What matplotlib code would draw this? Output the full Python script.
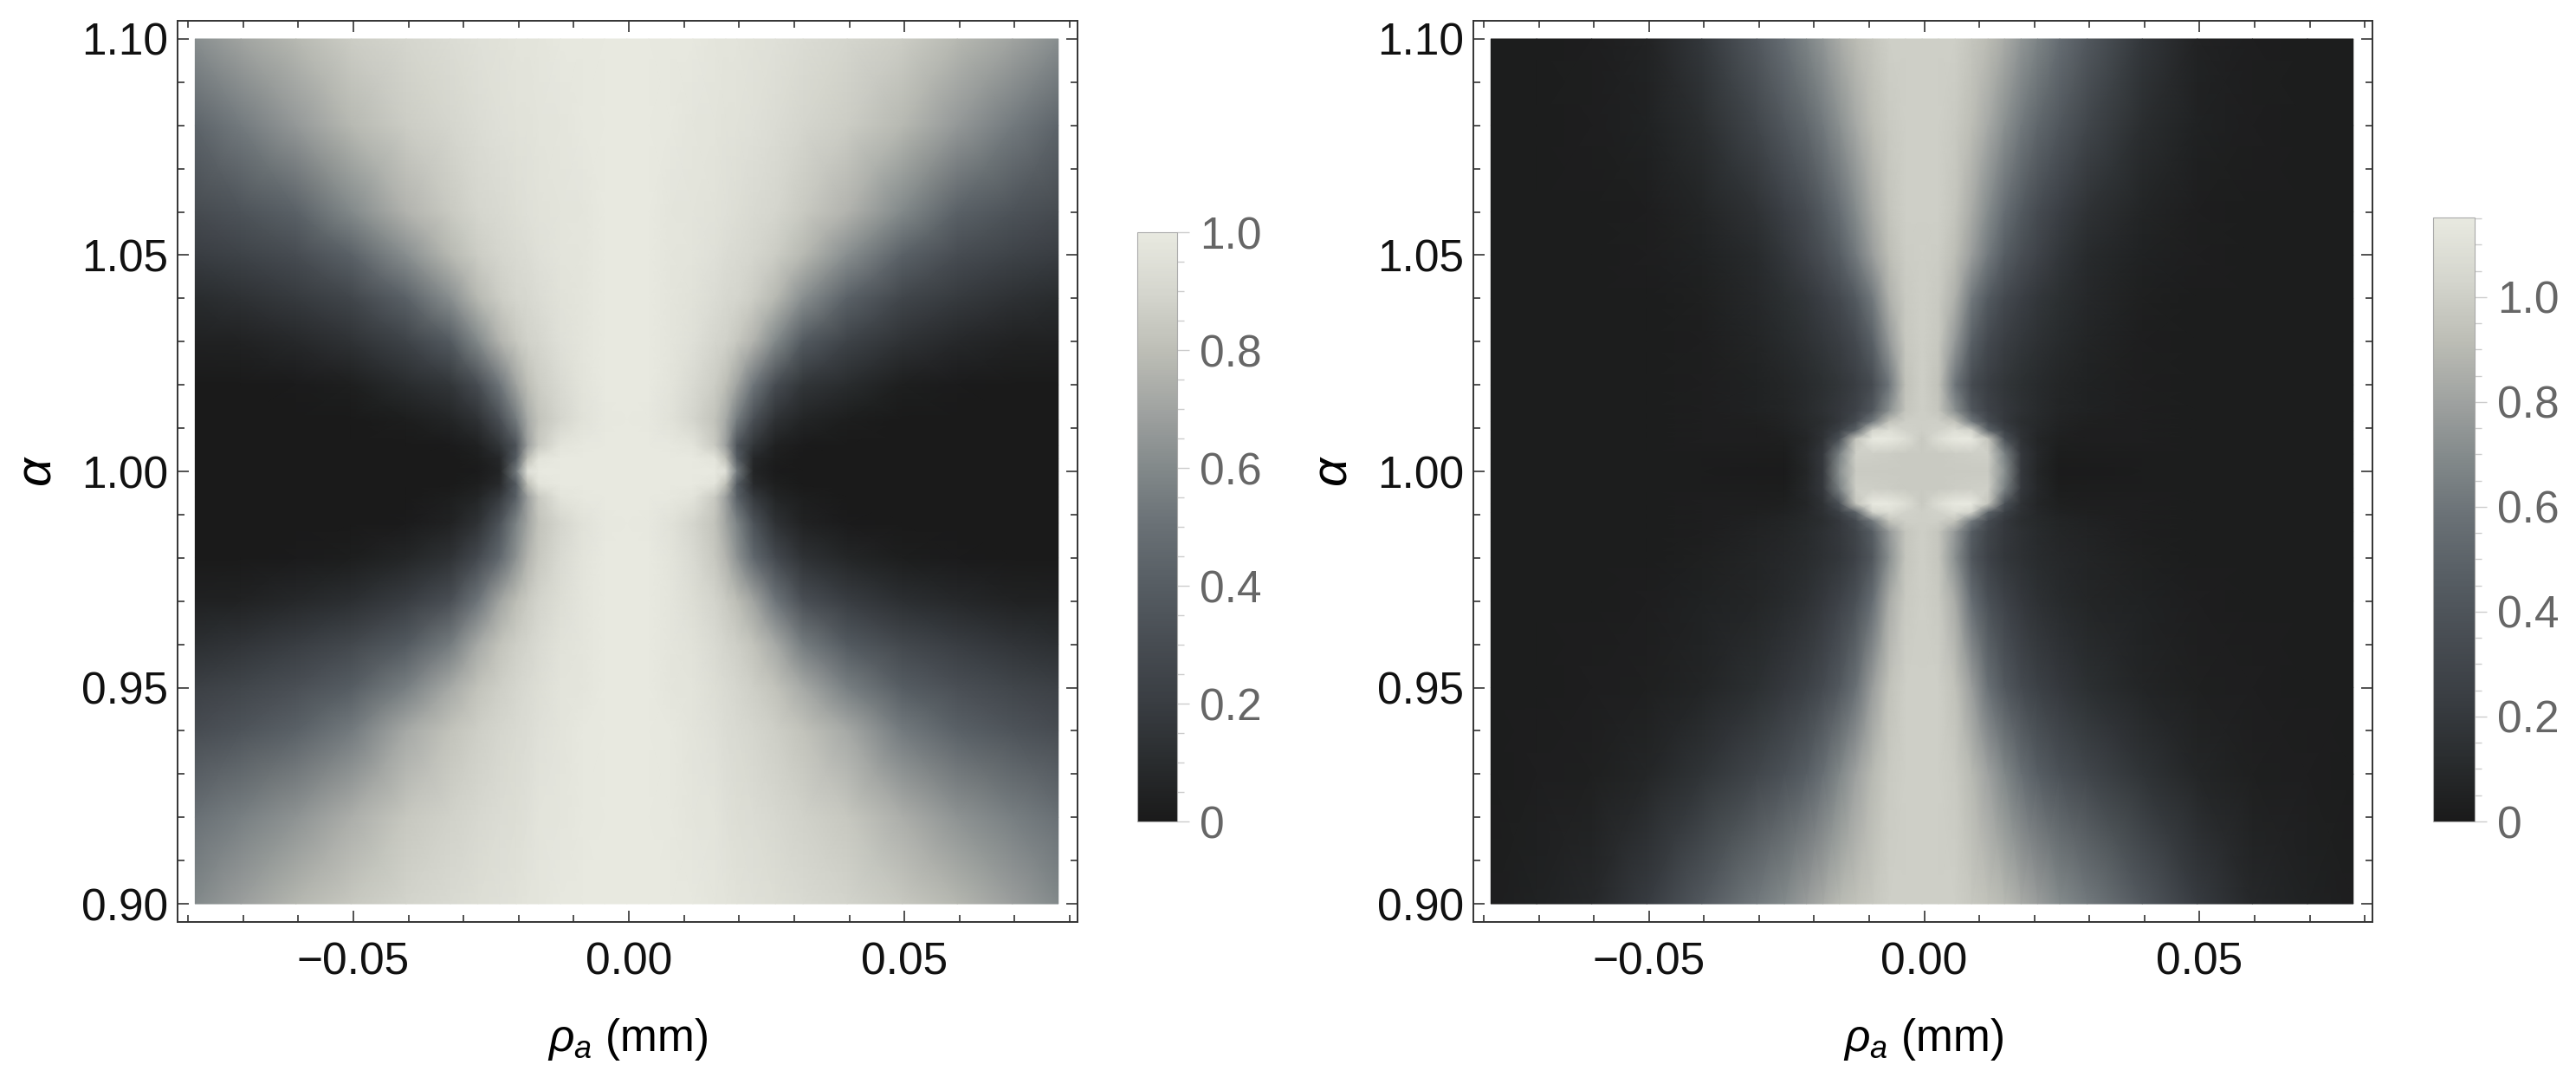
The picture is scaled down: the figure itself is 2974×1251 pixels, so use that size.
#! /usr/bin/env python3


# import libraries
import numpy as np
import matplotlib
matplotlib.use("Agg")
import matplotlib.pyplot as plt
from matplotlib.colors import LinearSegmentedColormap


# chart values: left panel, x >= 0 side of the map
rho_left = [0, .004, .008, .012, .016, .018, .02, .023, .027, .032, .04, .05, .06, .07, .0783]
alpha_left = [1.10, 1.08, 1.06, 1.05, 1.04, 1.03, 1.02, 1.012, 1.006, 1.003, 1.0, .997, .994,
              .988, .98, .97, .96, .95, .94, .92, .90]
val_left = [
    [1, 1, .99, .99, .98, .97, .97, .96, .95, .93, .90, .86, .78, .70, .62],
    [1, 1, .99, .98, .97, .96, .96, .95, .93, .90, .86, .78, .66, .54, .44],
    [1, 1, .98, .97, .96, .95, .94, .92, .90, .85, .76, .60, .42, .34, .29],
    [1, 1, .98, .97, .95, .93, .92, .90, .86, .78, .62, .42, .30, .24, .20],
    [1, 1, .98, .96, .93, .91, .90, .86, .78, .62, .42, .26, .18, .13, .10],
    [1, 1, .98, .95, .90, .88, .84, .76, .60, .38, .24, .14, .08, .05, .04],
    [1, 1, .97, .92, .86, .80, .70, .52, .30, .16, .10, .03, .01, 0, 0],
    [1, .99, .96, .90, .82, .72, .55, .32, .14, .06, .02, 0, 0, 0, 0],
    [1, 1, .99, .97, .85, .68, .35, .16, .04, .01, 0, 0, 0, 0, 0],
    [1, 1, 1, 1, .97, .80, .40, .08, .02, 0, 0, 0, 0, 0, 0],
    [1, 1, 1, 1, 1, .95, .55, .06, .01, 0, 0, 0, 0, 0, 0],
    [1, 1, 1, 1, .97, .80, .40, .09, .03, 0, 0, 0, 0, 0, 0],
    [1, 1, .99, .97, .85, .68, .42, .18, .06, .02, 0, 0, 0, 0, 0],
    [1, .99, .96, .90, .82, .70, .58, .34, .14, .05, .01, 0, 0, 0, 0],
    [1, 1, .97, .92, .84, .76, .64, .46, .28, .14, .07, .02, .01, 0, 0],
    [1, 1, .98, .94, .89, .85, .80, .70, .52, .32, .20, .12, .08, .05, .04],
    [1, 1, .98, .96, .92, .89, .87, .82, .72, .55, .38, .27, .20, .15, .12],
    [1, 1, .98, .97, .94, .92, .90, .87, .82, .72, .56, .40, .32, .26, .22],
    [1, 1, .99, .97, .95, .93, .92, .90, .87, .82, .72, .54, .42, .35, .30],
    [1, 1, .99, .98, .97, .95, .94, .93, .91, .88, .84, .74, .64, .56, .50],
    [1, 1, 1, .99, .98, .97, .96, .95, .94, .92, .89, .84, .77, .68, .60],
]

# chart values: right panel, x >= 0 side of the map
rho_right = [0, .003, .006, .009, .012, .015, .018, .021, .025, .03, .04, .05, .06, .07, .0783]
alpha_right = [1.10, 1.08, 1.06, 1.05, 1.04, 1.03, 1.02, 1.014, 1.0115, 1.0095, 1.0075, 1.004, 1.0,
               .996, .9925, .9905, .9885, .986, .98, .97, .95, .93, .90]
val_right = [
    [1, 1, 1, .96, .91, .84, .75, .67, .56, .43, .19, .06, .03, .02, .02],
    [1, 1, .98, .92, .83, .72, .62, .52, .42, .30, .13, .05, .03, .02, .02],
    [1, 1, .95, .84, .70, .56, .44, .34, .25, .16, .07, .03, .02, .02, .02],
    [1, .99, .92, .78, .62, .46, .36, .28, .19, .11, .05, .03, .02, .02, .02],
    [1, .98, .86, .62, .44, .32, .25, .19, .14, .09, .04, .02, .02, .02, .02],
    [1, .97, .76, .48, .32, .24, .19, .15, .11, .07, .03, .02, .02, .02, .02],
    [1, .94, .60, .34, .24, .18, .14, .11, .08, .05, .03, .02, .02, .02, .02],
    [1, .96, .72, .42, .27, .20, .15, .11, .07, .05, .03, .02, .02, .02, .02],
    [1, 1, .94, .62, .34, .20, .13, .10, .06, .04, .03, .02, .02, .02, .02],
    [1, 1.02, 1.08, 1.02, .50, .26, .15, .09, .05, .03, .03, .02, .02, .02, .02],
    [.98, 1.08, 1.15, 1.15, .95, .38, .16, .08, .04, .03, .03, .02, .02, .02, .02],
    [.98, .98, .99, 1.0, 1.0, .66, .20, .09, .02, .02, .02, .02, .02, .02, .02],
    [.98, .98, .98, .98, .98, .72, .20, .08, .01, .01, .02, .02, .02, .02, .02],
    [.98, .98, .99, 1.0, 1.0, .66, .20, .09, .02, .02, .02, .02, .02, .02, .02],
    [.98, 1.08, 1.15, 1.15, .95, .38, .16, .08, .04, .03, .03, .02, .02, .02, .02],
    [1, 1.02, 1.08, 1.02, .50, .26, .15, .09, .05, .04, .03, .02, .02, .02, .02],
    [1, 1, .94, .62, .34, .20, .13, .10, .07, .05, .03, .02, .02, .02, .02],
    [1, .96, .76, .46, .29, .20, .15, .11, .08, .06, .03, .02, .02, .02, .02],
    [1, .96, .72, .42, .27, .19, .15, .12, .09, .07, .04, .02, .02, .02, .02],
    [1, .98, .84, .56, .37, .27, .20, .15, .11, .08, .05, .03, .02, .02, .02],
    [1, 1, .94, .78, .58, .43, .33, .26, .20, .14, .07, .04, .03, .02, .02],
    [1, 1, .98, .90, .80, .68, .57, .47, .38, .30, .17, .08, .04, .03, .02],
    [1, 1, 1, .97, .94, .90, .84, .78, .70, .62, .43, .22, .09, .05, .03],
]

# colour bar
cmap_pos = [0, .1, .2, .3, .4, .5, .6, .7, .8, .9, 1.0]
cmap_col = ["#1a1a1a", "#292c2e", "#393d42", "#474c52", "#565d63", "#697075",
            "#82898a", "#a0a3a1", "#bdbeb6", "#d5d6ce", "#e8e9e0"]
bar_max = [1.0, 1.152]
bar_major = [[0, .2, .4, .6, .8, 1.0], [0, .2, .4, .6, .8, 1.0]]
bar_labels = ["0", "0.2", "0.4", "0.6", "0.8", "1.0"]

# axis ticks
x_major = [-.05, 0, .05]
x_labels = ["\u22120.05", "0.00", "0.05"]
y_major = [.90, .95, 1.00, 1.05, 1.10]
y_labels = ["0.90", "0.95", "1.00", "1.05", "1.10"]
x_label = r"$\rho_a$ (mm)"
y_label = r"$\alpha$"


# set matplotlib parameters
plt.rcParams["font.family"] = ["Liberation Sans", "DejaVu Sans"]
plt.rcParams["font.size"] = 37
plt.rcParams["mathtext.fontset"] = "custom"
plt.rcParams["mathtext.rm"] = "Liberation Sans"
plt.rcParams["mathtext.it"] = "Liberation Sans:italic"
plt.rcParams["axes.linewidth"] = 1.4
plt.rcParams["axes.edgecolor"] = "#333333"
plt.rcParams["xtick.direction"] = "in"
plt.rcParams["ytick.direction"] = "in"
plt.rcParams["xtick.top"] = True
plt.rcParams["ytick.right"] = True


W, H = 2974, 1251
cmap = LinearSegmentedColormap.from_list("gray_tones", list(zip(cmap_pos, cmap_col)))

# setup figure
fig = plt.figure(figsize=(W / 100, H / 100), dpi=100, facecolor="white")


def box(x0, y0, x1, y1):
    return [x0 / W, 1 - y1 / H, (x1 - x0) / W, (y1 - y0) / H]


def panel(frame, bar, rho, alpha, val, vmax, major):
    ax = fig.add_axes(box(*frame))

    # map is mirrored around rho = 0, the picture sits a little left of the tick
    rho = np.array(rho)
    val = np.array(val)
    xs = np.concatenate((-rho[:0:-1], rho)) - .0004
    zs = np.hstack((val[:, :0:-1], val))
    mesh = ax.pcolormesh(xs, alpha, zs, shading="gouraud", cmap=cmap, vmin=0, vmax=vmax)

    ax.set_xlim(-.0819, .0814)
    ax.set_ylim(.8958, 1.1042)
    ax.set_xticks(x_major, x_labels)
    ax.set_yticks(y_major, y_labels)
    ax.set_xticks(np.arange(-8, 9) / 100, minor=True)
    ax.set_yticks(np.arange(90, 111) / 100, minor=True)
    ax.tick_params(which="major", length=9.5, width=1.2, color="#333333", labelcolor="#111111")
    ax.tick_params(axis="x", which="major", pad=16)
    ax.tick_params(axis="y", which="major", pad=8)
    ax.tick_params(which="minor", length=5.5, width=1.2, color="#333333")
    ax.set_xlabel(x_label, labelpad=27)
    ax.set_ylabel(y_label, labelpad=17, fontsize=42)

    # colour bar
    cax = fig.add_axes(box(*bar))
    cb = fig.colorbar(mesh, cax=cax)
    cb.set_ticks(major, labels=bar_labels)
    cb.ax.set_yticks(np.arange(0, vmax + .001, .05), minor=True)
    cb.ax.tick_params(which="major", length=10, width=1, color="#cccccc", labelcolor="#666666", pad=9,
                      direction="out", right=True, left=False)
    cb.ax.tick_params(which="minor", length=6, width=1, color="#cccccc", direction="out", right=True, left=False)
    cb.outline.set_edgecolor("#aaaaaa")
    cb.outline.set_linewidth(.8)
    return ax


panel((205, 24, 1244, 1064), (1313, 268, 1359, 948), rho_left, alpha_left, val_left, bar_max[0], bar_major[0])
panel((1701, 24, 2739, 1064), (2809, 251, 2857, 948), rho_right, alpha_right, val_right, bar_max[1], bar_major[1])

fig.savefig("out.png", dpi=100)
